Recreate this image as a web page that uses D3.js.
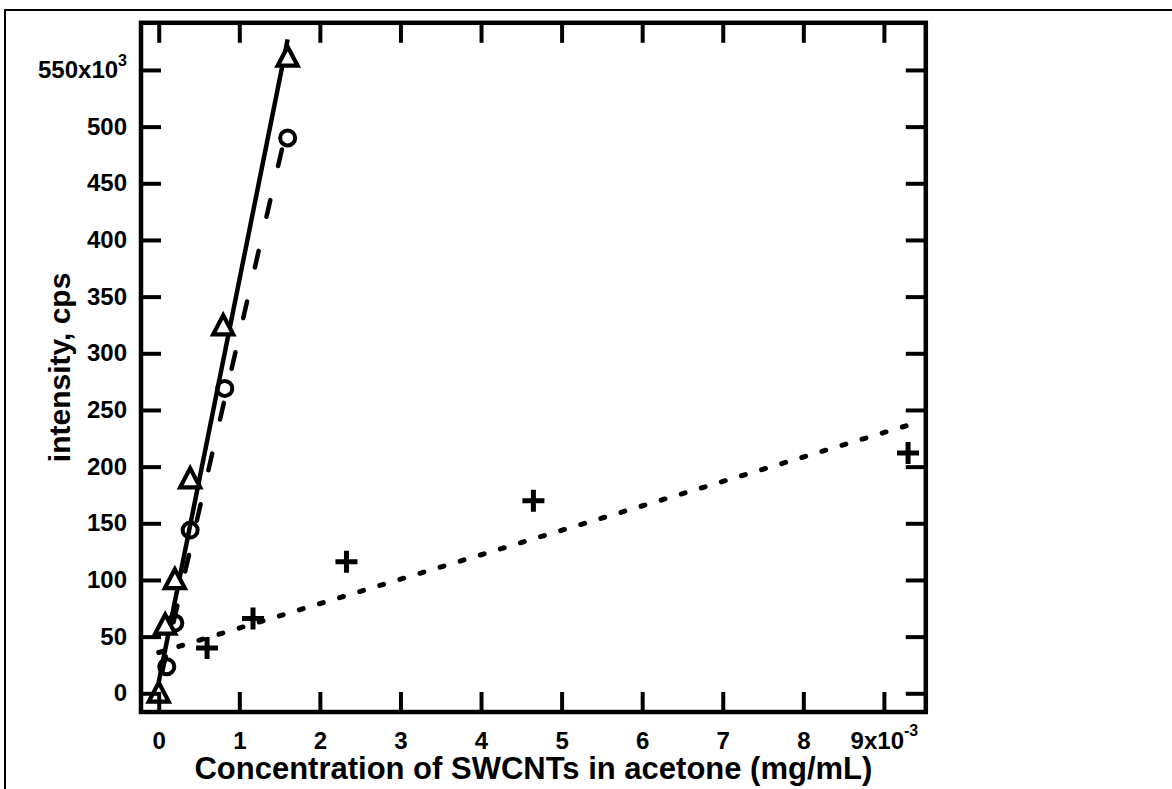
<!DOCTYPE html>
<html>
<head>
<meta charset="utf-8">
<script src="https://cdnjs.cloudflare.com/ajax/libs/d3/7.8.5/d3.min.js"></script>
<style>
  body { margin: 0; background: #fff; }
  text { font-family: "Liberation Sans", Arial, sans-serif; font-weight: bold; fill: #000; }
</style>
</head>
<body>
<div id="chart"></div>
<script>
// x values in 10^-3 mg/mL, y values in 10^3 cps
var triangleX = [0, 0.08, 0.2, 0.39, 0.8, 1.6]
var triangleY = [2, 62, 102, 191, 326, 563]
var circleX = [0.1, 0.2, 0.39, 0.82, 1.6]
var circleY = [23.5, 62, 144, 269, 490]
var plusX = [0.6, 1.17, 2.33, 4.65, 9.3]
var plusY = [40, 66, 116, 170, 212]

// fit lines, end points
var solidFit = [[0, 10], [1.6, 577]]
var dashedFit = [[0.04, 18], [1.6, 502]]
var dottedFit = [[0, 36], [9.3, 236.5]]

var xTicks = [0, 1, 2, 3, 4, 5, 6, 7, 8, 9]
var yTicks = [0, 50, 100, 150, 200, 250, 300, 350, 400, 450, 500, 550]

var xTitle = "Concentration of SWCNTs in acetone (mg/mL)"
var yTitle = "intensity, cps"

;(function() {
  var widthSvg = 1172
  var heightSvg = 789
  var plot = { left: 141, top: 22.8, right: 925.8, bottom: 712 }

  var svg = d3.select("#chart").append("svg")
    .attr("width", widthSvg)
    .attr("height", heightSvg)

  var xPositionScale = d3.scaleLinear()
    .domain([-0.22, 9.52])
    .range([plot.left, plot.right])

  var yPositionScale = d3.scaleLinear()
    .domain([-16.5, 591.6])
    .range([plot.bottom, plot.top])

  // outer frame
  svg.append("rect")
    .attr("x", 5).attr("y", 10)
    .attr("width", 1300).attr("height", 900)
    .attr("fill", "none")
    .attr("stroke", "#000")
    .attr("stroke-width", 2)

  generateFits()
  generateMarkers()
  generateAxes()
  generateTitles()

  function generateFits() {
    var line = d3.line()
      .x(function(d) { return xPositionScale(d[0]) })
      .y(function(d) { return yPositionScale(d[1]) })

    svg.append("path")
      .datum(solidFit)
      .attr("d", line)
      .attr("fill", "none")
      .attr("stroke", "#000")
      .attr("stroke-width", 4.5)

    svg.append("path")
      .datum(dashedFit)
      .attr("d", line)
      .attr("fill", "none")
      .attr("stroke", "#000")
      .attr("stroke-width", 4.5)
      .attr("stroke-linecap", "round")
      .attr("stroke-dasharray", "17,35")

    svg.append("path")
      .datum(dottedFit)
      .attr("d", line)
      .attr("fill", "none")
      .attr("stroke", "#000")
      .attr("stroke-width", 5)
      .attr("stroke-linecap", "round")
      .attr("stroke-dasharray", "4,17")
  }

  function generateMarkers() {
    var tri = d3.range(triangleX.length).map(function(i) { return [triangleX[i], triangleY[i]] })
    var circ = d3.range(circleX.length).map(function(i) { return [circleX[i], circleY[i]] })
    var plus = d3.range(plusX.length).map(function(i) { return [plusX[i], plusY[i]] })

    svg.selectAll(".plusMarker")
      .data(plus)
      .enter().append("path")
      .attr("class", "plusMarker")
      .attr("transform", function(d) {
        return "translate(" + xPositionScale(d[0]) + "," + yPositionScale(d[1]) + ")"
      })
      .attr("d", "M-11,0H11M0,-11V11")
      .attr("stroke", "#000")
      .attr("stroke-width", 5)

    svg.selectAll(".circleMarker")
      .data(circ)
      .enter().append("circle")
      .attr("class", "circleMarker")
      .attr("cx", function(d) { return xPositionScale(d[0]) })
      .attr("cy", function(d) { return yPositionScale(d[1]) })
      .attr("r", 7.5)
      .attr("fill", "none")
      .attr("stroke", "#000")
      .attr("stroke-width", 4)

    svg.selectAll(".triMarker")
      .data(tri)
      .enter().append("path")
      .attr("class", "triMarker")
      .attr("transform", function(d) {
        return "translate(" + xPositionScale(d[0]) + "," + yPositionScale(d[1]) + ")"
      })
      .attr("d", "M0,-8.5L10,10.5L-10,10.5Z")
      .attr("fill", "#fff")
      .attr("stroke", "#000")
      .attr("stroke-width", 4.2)
  }

  function generateAxes() {
    var xAxis = d3.axisBottom(xPositionScale)
      .tickValues(xTicks)
      .tickSize(-20)
      .tickPadding(20)
    var xTop = d3.axisTop(xPositionScale)
      .tickValues(xTicks)
      .tickSize(-20)
      .tickFormat("")
    var yAxis = d3.axisLeft(yPositionScale)
      .tickValues(yTicks)
      .tickSize(-20)
      .tickPadding(14)
    var yRight = d3.axisRight(yPositionScale)
      .tickValues(yTicks)
      .tickSize(-20)
      .tickFormat("")

    var gx = svg.append("g")
      .attr("class", "axis x-axis")
      .attr("transform", "translate(0," + plot.bottom + ")")
      .call(xAxis)
    svg.append("g")
      .attr("class", "axis x-top")
      .attr("transform", "translate(0," + plot.top + ")")
      .call(xTop)
    var gy = svg.append("g")
      .attr("class", "axis y-axis")
      .attr("transform", "translate(" + plot.left + ",0)")
      .call(yAxis)
    svg.append("g")
      .attr("class", "axis y-right")
      .attr("transform", "translate(" + plot.right + ",0)")
      .call(yRight)

    svg.selectAll(".axis .domain").remove()
    svg.selectAll(".axis .tick line")
      .attr("stroke", "#000")
      .attr("stroke-width", 4)
    svg.selectAll(".axis text")
      .attr("font-size", 24)
      .attr("font-family", null)

    // exponent labels on the last ticks
    gy.selectAll(".tick text")
      .filter(function(d) { return d === 550 })
      .text(null)
      .call(function(t) {
        t.append("tspan").text("550x10")
        t.append("tspan").attr("dy", -12).attr("font-size", 16).text("3")
      })
    gx.selectAll(".tick text")
      .filter(function(d) { return d === 9 })
      .text(null)
      .call(function(t) {
        t.append("tspan").text("9x10")
        t.append("tspan").attr("dy", -13).attr("font-size", 16).text("-3")
      })

    // plot frame
    svg.append("rect")
      .attr("x", plot.left).attr("y", plot.top)
      .attr("width", plot.right - plot.left)
      .attr("height", plot.bottom - plot.top)
      .attr("fill", "none")
      .attr("stroke", "#000")
      .attr("stroke-width", 4.5)
  }

  function generateTitles() {
    svg.append("text")
      .attr("x", (plot.left + plot.right) / 2)
      .attr("y", 779)
      .attr("text-anchor", "middle")
      .attr("font-size", 31)
      .text(xTitle)

    svg.append("text")
      .attr("transform", "translate(70," + ((plot.top + plot.bottom) / 2) + ") rotate(-90)")
      .attr("text-anchor", "middle")
      .attr("font-size", 30)
      .text(yTitle)
  }
})();
</script>
</body>
</html>
